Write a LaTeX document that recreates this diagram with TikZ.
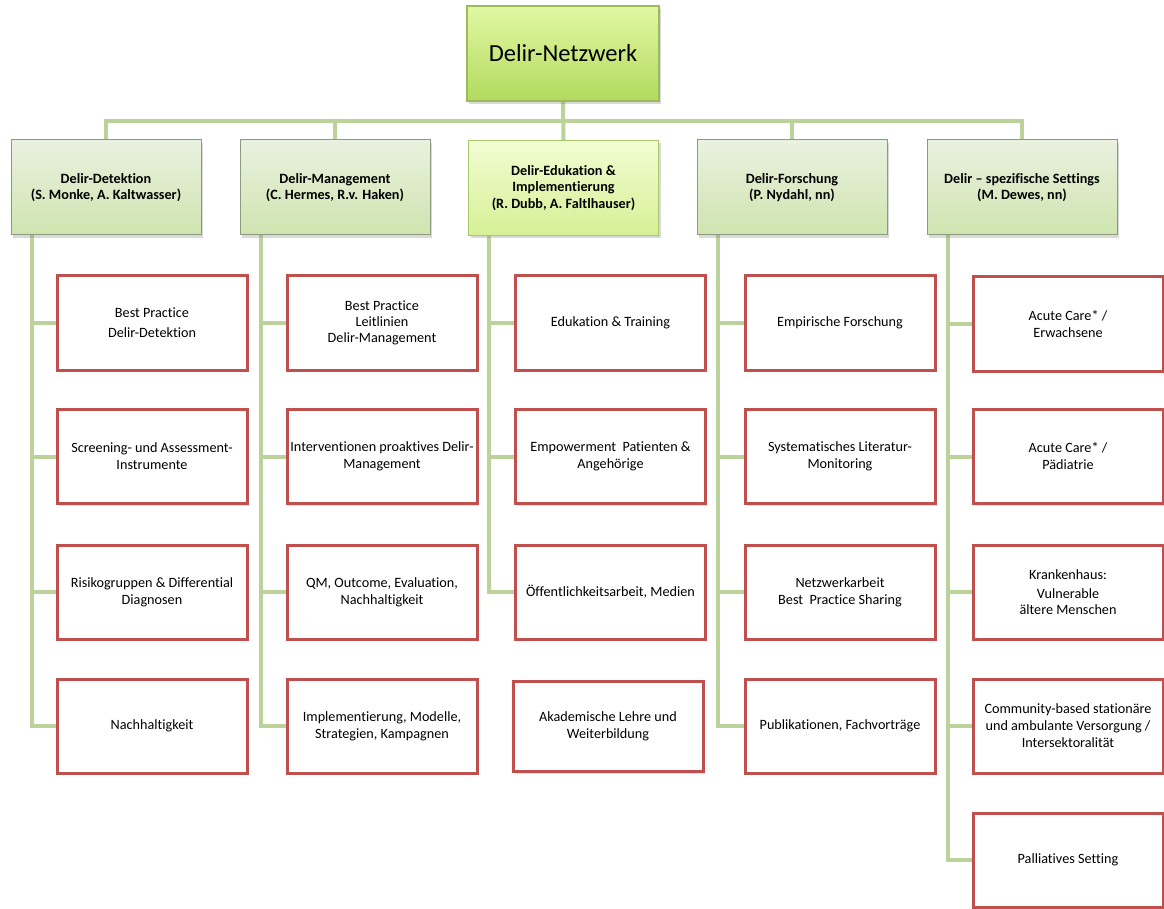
\documentclass[tikz,border=0pt]{standalone}
\usepackage{fontspec}
\setmainfont{Carlito}[Ligatures=NoCommon]
\usetikzlibrary{shadows,backgrounds}
\definecolor{lineGreen}{HTML}{BBD29A}
\definecolor{boxRed}{HTML}{C0504D}
\definecolor{topBorder}{HTML}{9BBB59}
\definecolor{topTop}{HTML}{E1F8A4}
\definecolor{topBot}{HTML}{B3DA5E}
\definecolor{lvlBorder}{HTML}{8C9A80}
\definecolor{lvlTop}{HTML}{EAF1E0}
\definecolor{lvlBot}{HTML}{CFE4AF}
\definecolor{eduBorder}{HTML}{A8C86E}
\definecolor{eduTop}{HTML}{F2FDD2}
\definecolor{eduBot}{HTML}{D6F096}
\tikzset{
  conn/.style={line width=4pt, color=lineGreen},
  topbox/.style={rectangle, draw=topBorder, line width=1.2pt, top color=topTop, bottom color=topBot,
     minimum width=192pt, minimum height=95pt, font=\fontsize{24.5}{29}\selectfont,
     drop shadow={shadow xshift=2pt, shadow yshift=-3pt, opacity=0.3}},
  lvlbox/.style={rectangle, draw=lvlBorder, line width=1pt, top color=lvlTop, bottom color=lvlBot,
     minimum width=190pt, minimum height=95pt, align=center, font=\fontsize{14.2}{16.5}\selectfont\bfseries,
     drop shadow={shadow xshift=2pt, shadow yshift=-3pt, opacity=0.3}},
  edubox/.style={lvlbox, draw=eduBorder, top color=eduTop, bottom color=eduBot},
  redbox/.style={rectangle, draw=boxRed, line width=3pt, fill=white, minimum width=190pt, minimum height=94pt,
     align=center, font=\fontsize{14.2}{17}\selectfont,
     drop shadow={shadow xshift=1.5pt, shadow yshift=-2pt, opacity=0.25}},
}
\begin{document}
\begin{tikzpicture}[x=1pt,y=-1pt]
\useasboundingbox (0,0) rectangle (1164,909);
% top
\node[topbox] (top) at (563,53.5) {Delir-Netzwerk};
% level 1
\node[lvlbox] (d1) at (106,187.5) {Delir-Detektion\\(S. Monke, A. Kaltwasser)};
\node[lvlbox] (d2) at (335,187.5) {Delir-Management\\(C. Hermes, R.v. Haken)};
\node[edubox] (d3) at (563.5,188) {Delir-Edukation \&\\Implementierung\\(R. Dubb, A. Faltlhauser)};
\node[lvlbox] (d4) at (792,187.5) {Delir-Forschung\\(P. Nydahl, nn)};
\node[lvlbox] (d5) at (1022,187.5) {Delir -- spezifische Settings\\(M. Dewes, nn)};
% column 1
\node[redbox] (a1) at (152,323) {Best Practice\\[3pt]Delir-Detektion};
\node[redbox] (a2) at (152,456.5) {Screening- und Assessment-\\Instrumente};
\node[redbox] (a3) at (152,592) {Risikogruppen \& Differential\\Diagnosen};
\node[redbox] (a4) at (152,726) {Nachhaltigkeit};
% column 2
\node[redbox] (b1) at (382,323) {Best Practice\\[-1pt]Leitlinien\\[-1pt]Delir-Management};
\node[redbox] (b2) at (382,456.5) {Interventionen proaktives Delir-\\Management};
\node[redbox] (b3) at (382,592) {QM, Outcome, Evaluation,\\Nachhaltigkeit};
\node[redbox] (b4) at (382,726) {Implementierung, Modelle,\\Strategien, Kampagnen};
% column 3
\node[redbox] (c1) at (610.5,323) {Edukation \& Training};
\node[redbox] (c2) at (610.5,456.5) {Empowerment\ \ Patienten \&\\Angehörige};
\node[redbox] (c3) at (610.5,592) {Öffentlichkeitsarbeit, Medien};
\node[redbox, minimum height=90pt] (c4) at (608,726.5) {Akademische Lehre und\\Weiterbildung};
% column 4
\node[redbox] (e1) at (840,323) {Empirische Forschung};
\node[redbox] (e2) at (840,456.5) {Systematisches Literatur-\\Monitoring};
\node[redbox] (e3) at (840,592) {Netzwerkarbeit\\Best\ \ Practice Sharing};
\node[redbox] (e4) at (840,726) {Publikationen, Fachvorträge};
% column 5
\node[redbox] (f1) at (1068,324) {Acute Care* /\\Erwachsene};
\node[redbox] (f2) at (1068,456.5) {Acute Care* /\\Pädiatrie};
\node[redbox] (f3) at (1068,592) {Krankenhaus:\\[2pt]Vulnerable\\[-1pt]ältere Menschen};
\node[redbox] (f4) at (1068,726) {Community-based stationäre\\und ambulante Versorgung /\\Intersektoralität};
\node[redbox] (f5) at (1068,860) {Palliatives Setting};
% connectors
\coordinate (bus) at (563,121);
\begin{pgfonlayer}{background}
\draw[conn] (top.south) -- (d3.north);
\draw[conn] (d1.north) -- (d1.north |- bus) -- (d5.north |- bus) -- (d5.north);
\draw[conn] (d2.north) -- (d2.north |- bus);
\draw[conn] (d4.north) -- (d4.north |- bus);
\foreach \p/\r in {d1/a1,d1/a2,d1/a3,d1/a4,d2/b1,d2/b2,d2/b3,d2/b4,d3/c1,d3/c2,d3/c3,d4/e1,d4/e2,d4/e3,d4/e4,d5/f1,d5/f2,d5/f3,d5/f4,d5/f5}
  \draw[conn] ([xshift=21pt]\p.south west) |- (\r.west);
\end{pgfonlayer}
\end{tikzpicture}
\end{document}
